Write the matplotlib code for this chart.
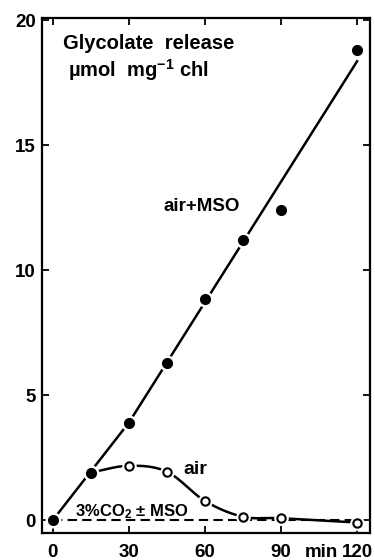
import numpy as np
import matplotlib
matplotlib.use('Agg')
import matplotlib.pyplot as plt

plt.rcParams['font.family'] = ['Liberation Sans', 'DejaVu Sans']
plt.rcParams['font.weight'] = 'bold'
plt.rcParams['mathtext.fontset'] = 'custom'
plt.rcParams['mathtext.rm'] = 'Liberation Sans:bold'
plt.rcParams['mathtext.bf'] = 'Liberation Sans:bold'
plt.rcParams['mathtext.it'] = 'Liberation Sans:bold'
plt.rcParams['mathtext.default'] = 'rm'

# data
time_min = [0, 15, 30, 45, 60, 75, 90, 120]
mso_vals = [0, 1.9, 3.9, 6.3, 8.85, 11.2, 12.4, 18.8]
air_time = [15, 30, 45, 60, 75, 90, 120]
air_vals = [1.9, 2.17, 1.93, 0.76, 0.13, 0.07, -0.1]
fit_x = [0, 30, 120]
fit_y = [0, 3.9, 18.35]
co2_x = [0, 120]
co2_y = [0, 0]


def catmull(x, y, n=30):
    # smooth drawing of the hand-drawn curve through the points
    x = np.asarray(x, float)
    y = np.asarray(y, float)
    px = np.concatenate([[2 * x[0] - x[1]], x, [2 * x[-1] - x[-2]]])
    py = np.concatenate([[2 * y[0] - y[1]], y, [2 * y[-1] - y[-2]]])
    xs, ys = [], []
    t = np.linspace(0, 1, n)
    for i in range(1, len(px) - 2):
        for p, out in ((px, xs), (py, ys)):
            p0, p1, p2, p3 = p[i - 1], p[i], p[i + 1], p[i + 2]
            out.extend(0.5 * (2 * p1 + (-p0 + p2) * t
                              + (2 * p0 - 5 * p1 + 4 * p2 - p3) * t ** 2
                              + (-p0 + 3 * p1 - 3 * p2 + p3) * t ** 3))
    return xs, ys


fig = plt.figure(figsize=(3.75, 5.6), dpi=100)
ax = fig.add_axes([0.1107, 0.0482, 0.876, 0.9196])

ax.plot(co2_x, co2_y, color='black', lw=1.5, ls=(0, (4.5, 2.5)), zorder=2)
ax.plot(fit_x, fit_y, color='black', lw=1.8, zorder=2)
sx, sy = catmull(air_time, air_vals)
ax.plot(sx, sy, color='black', lw=1.8, zorder=2)

# white halos so the lines stop short of the symbols
ax.plot(time_min, mso_vals, 'o', ms=10.5, color='white', zorder=3)
ax.plot(air_time[1:], air_vals[1:], 'o', ms=9.5, color='white', zorder=3)
ax.plot(time_min, mso_vals, 'o', ms=7, color='black', zorder=4)
ax.plot(air_time[1:], air_vals[1:], 'o', ms=6, mfc='white', mec='black',
        mew=1.5, zorder=4)

ax.set_xlim(-4.5, 125.1)
ax.set_ylim(-0.52, 20.08)
ax.set_xticks([0, 30, 60, 90, 120])
ax.set_yticks([0, 5, 10, 15, 20])
ax.tick_params(direction='in', length=5, width=1.3, top=True, right=True,
               labelsize=13.5)
ax.tick_params(axis='x', pad=8)
ax.tick_params(axis='y', pad=4)
for lab in ax.get_xticklabels() + ax.get_yticklabels():
    lab.set_fontweight('bold')
for s in ax.spines.values():
    s.set_linewidth(1.6)

ax.annotate('min', xy=(106, 0), xycoords=ax.get_xaxis_transform(),
            xytext=(0, -8), textcoords='offset points', ha='center', va='top',
            fontsize=13.5, fontweight='bold')

ax.text(4, 18.85, 'Glycolate  release', fontsize=14.5, va='baseline')
ax.text(5.9, 17.72, r'µmol  mg$^{-1}$ chl', fontsize=14.5, va='baseline')
ax.text(43.5, 12.36, 'air+MSO', fontsize=13.5, va='baseline')
ax.text(51.4, 1.84, 'air', fontsize=14, va='baseline')
ax.text(8.7, 0.16, '3%CO$_2$ ± MSO', fontsize=12, va='baseline')

fig.savefig('out.png', dpi=100)
